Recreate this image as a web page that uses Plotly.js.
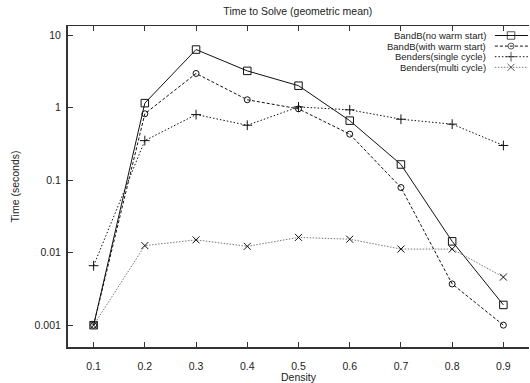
<!DOCTYPE html>
<html>
<head>
<meta charset="utf-8">
<script src="https://cdn.plot.ly/plotly-3.0.1.min.js"></script>
<style>html,body{margin:0;padding:0;overflow:hidden;background:#fff}</style>
</head>
<body>
<div id="chart" style="width:530px;height:383px"></div>
<script>
const density = [0.1, 0.2, 0.3, 0.4, 0.5, 0.6, 0.7, 0.8, 0.9];
const bandbNoWarm = [0.001, 1.15, 6.3, 3.2, 2.0, 0.66, 0.164, 0.0143, 0.0019];
const bandbWarm = [0.001, 0.82, 2.95, 1.28, 0.96, 0.43, 0.079, 0.0037, 0.001];
const bendersSingle = [0.0066, 0.35, 0.80, 0.57, 1.02, 0.93, 0.69, 0.59, 0.30];
const bendersMulti = [0.001, 0.0125, 0.015, 0.0122, 0.0162, 0.0153, 0.0112, 0.0112, 0.0046];
const seriesNames = ['BandB(no warm start)', 'BandB(with warm start)', 'Benders(single cycle)', 'Benders(multi cycle)'];
const xTicks = [0.1, 0.2, 0.3, 0.4, 0.5, 0.6, 0.7, 0.8, 0.9];
const xTickText = ['0.1', '0.2', '0.3', '0.4', '0.5', '0.6', '0.7', '0.8', '0.9'];
const yTicks = [10, 1, 0.1, 0.01, 0.001];
const yTickText = ['10', '1', '0.1', '0.01', '0.001'];

const styles = [
  {color: '#111', dash: 'solid', symbol: 'square-open', size: 7.5},
  {color: '#111', dash: '3px,2px', symbol: 'circle-open', size: 6},
  {color: '#111', dash: '1.5px,2px', symbol: 'cross-thin-open', size: 7},
  {color: '#777', dash: '1.5px,1.5px', symbol: 'x-thin-open', size: 7}
];
const ys = [bandbNoWarm, bandbWarm, bendersSingle, bendersMulti];

const traces = ys.map((y, i) => ({
  x: density, y: y, type: 'scatter', mode: 'lines+markers', name: seriesNames[i],
  line: {color: styles[i].color, width: 1, dash: styles[i].dash},
  marker: {symbol: styles[i].symbol, size: styles[i].size, color: '#111',
           line: {color: i === 3 ? '#333' : '#111', width: 1}},
  showlegend: false, cliponaxis: false
}));

// custom legend (text left of sample, gnuplot style); plot area is 321 px tall
const legendTopPx = 9.5, legendStepPx = 10.6, plotH = 321;
const annotations = [];
seriesNames.forEach((n, i) => {
  const yy = 1 - (legendTopPx + i * legendStepPx) / plotH;
  annotations.push({xref: 'paper', yref: 'paper', x: 0.908, y: yy, text: n, showarrow: false,
    xanchor: 'right', yanchor: 'middle', borderpad: 0,
    font: {family: 'Liberation Sans, Arial, sans-serif', size: 9.5, color: '#222'}});
  traces.push({
    x: [0.926, 0.961, 0.998], y: [yy, yy, yy], xaxis: 'x2', yaxis: 'y2', type: 'scatter',
    mode: 'lines+markers', showlegend: false, hoverinfo: 'skip', cliponaxis: false,
    line: {color: styles[i].color, width: 1, dash: styles[i].dash},
    marker: {symbol: styles[i].symbol, size: [0, styles[i].size, 0], color: '#111',
             line: {color: '#111', width: 1}}
  });
});

const font = {family: 'Liberation Sans, Arial, sans-serif', size: 10.5, color: '#222'};
const layout = {
  width: 530, height: 383,
  margin: {l: 68, r: 1, t: 26, b: 36},
  paper_bgcolor: '#fff', plot_bgcolor: '#fff',
  font: font,
  title: {text: 'Time to Solve (geometric mean)', font: {family: font.family, size: 10.5, color: '#222'},
          x: 0.562, xanchor: 'center', y: 0.97, yanchor: 'middle'},
  xaxis: {range: [0.05, 0.95], tickvals: xTicks, ticktext: xTickText, ticks: 'inside', ticklen: 5,
          tickcolor: '#333', showline: true, linecolor: '#333', linewidth: 2, showgrid: false, zeroline: false,
          ticklabelstandoff: 8,
          title: {text: 'Density', font: font, standoff: 1}, tickfont: font, fixedrange: true},
  xaxis3: {range: [0.05, 0.95], overlaying: 'x', side: 'top', tickvals: xTicks, ticks: 'inside', ticklen: 5,
           tickcolor: '#333', showline: true, linecolor: '#333', linewidth: 1, showticklabels: false,
           showgrid: false, zeroline: false},
  yaxis: {type: 'log', range: [Math.log10(0.0005), 1.124], tickvals: yTicks, ticktext: yTickText,
          ticks: 'inside', ticklen: 5, tickcolor: '#333', showline: true, linecolor: '#333', linewidth: 2,
          showgrid: false, zeroline: false, ticklabelstandoff: 3,
          title: {text: 'Time (seconds)', font: font, standoff: 13},
          tickfont: font, fixedrange: true},
  xaxis2: {range: [0, 1], overlaying: 'x', visible: false, fixedrange: true},
  yaxis2: {range: [0, 1], overlaying: 'y', visible: false, fixedrange: true},
  annotations: annotations,
  showlegend: false
};
// invisible trace so the mirrored top axis is drawn
traces.push({x: [0.5], y: [0.01], xaxis: 'x3', type: 'scatter', mode: 'markers', marker: {opacity: 0}, showlegend: false, hoverinfo: 'skip'});

Plotly.newPlot('chart', traces, layout, {displayModeBar: false, staticPlot: true});
</script>
</body>
</html>
